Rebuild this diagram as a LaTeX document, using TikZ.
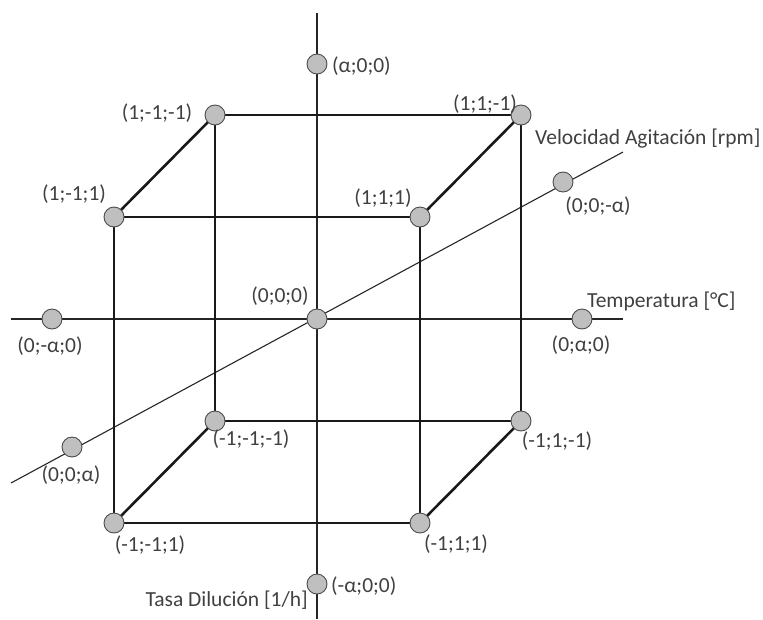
\documentclass[tikz,border=0pt]{standalone}
\usepackage{fontspec}
\setmainfont{Carlito}
\begin{document}
\begin{tikzpicture}[x=1pt,y=-1pt,
  axis/.style={line width=1.1pt, draw=black!85},
  edge/.style={line width=2.6pt, draw=black!90},
  pt/.style={circle, fill=black!25, draw=black!70, line width=0.9pt, minimum size=20pt, inner sep=0pt},
  lbl/.style={inner sep=0pt, text=black!75, font=\fontsize{21.5}{25}\selectfont}]
\useasboundingbox (0,0) rectangle (763,619);
% axes
\coordinate (vtop) at (317,13);
\coordinate (vbot) at (317,619);
\coordinate (hl) at (11,319);
\coordinate (hr) at (623,319);
\coordinate (dl) at (11,483);
\coordinate (dr) at (623,152);
\draw[axis] (vtop) -- (vbot);
\draw[axis] (hl) -- (hr);
\draw[axis] (dl) -- (dr);
% cube coordinates
\coordinate (A) at (215,115);
\coordinate (B) at (521,115);
\coordinate (C) at (114,217);
\coordinate (D) at (420,217);
\coordinate (E) at (215,421);
\coordinate (F) at (521,421);
\coordinate (G) at (114,523);
\coordinate (H) at (420,523);
\draw[edge] (A) -- (B) -- (F) -- (E) -- cycle;
\draw[edge] (C) -- (D) -- (H) -- (G) -- cycle;
\draw[edge] (A) -- (C);
\draw[edge] (B) -- (D);
\draw[edge] (E) -- (G);
\draw[edge] (F) -- (H);
% points
\node[pt] (nA) at (A) {};
\node[pt] (nB) at (B) {};
\node[pt] (nC) at (C) {};
\node[pt] (nD) at (D) {};
\node[pt] (nE) at (E) {};
\node[pt] (nF) at (F) {};
\node[pt] (nG) at (G) {};
\node[pt] (nH) at (H) {};
\node[pt] (ptop) at (317,64) {};
\node[pt] (pbot) at (317,584) {};
\node[pt] (pl) at (52,319) {};
\node[pt] (pr) at (582,319) {};
\node[pt] (pc) at (317,319) {};
\node[pt] (pdr) at (563,182) {};
\node[pt] (pdl) at (72,447) {};
% labels
\node[lbl] (lA) at (157,113) {(1;-1;-1)};
\node[lbl] (lB) at (485,104) {(1;1;-1)};
\node[lbl] (lC) at (74,194) {(1;-1;1)};
\node[lbl] (lD) at (383,198) {(1;1;1)};
\node[lbl] (lE) at (251,439) {(-1;-1;-1)};
\node[lbl] (lF) at (557,441) {(-1;1;-1)};
\node[lbl] (lG) at (150,545) {(-1;-1;1)};
\node[lbl] (lH) at (456,544) {(-1;1;1)};
\node[lbl, anchor=west] (ltop) at (332,66) {(α;0;0)};
\node[lbl, anchor=west] (lbot) at (331,586) {(-α;0;0)};
\node[lbl] (lpl) at (50,346) {(0;-α;0)};
\node[lbl] (lpr) at (581,345) {(0;α;0)};
\node[lbl] (lpc) at (280,296) {(0;0;0)};
\node[lbl] (lpdr) at (598,206) {(0;0;-α)};
\node[lbl] (lpdl) at (71,475) {(0;0;α)};
\node[lbl, anchor=west] (temp) at (587,301) {Temperatura [°C]};
\node[lbl, anchor=west] (vel) at (535,139) {Velocidad Agitación [rpm]};
\node[lbl, anchor=east] (tasa) at (308,600) {Tasa Dilución [1/h]};
\end{tikzpicture}
\end{document}
